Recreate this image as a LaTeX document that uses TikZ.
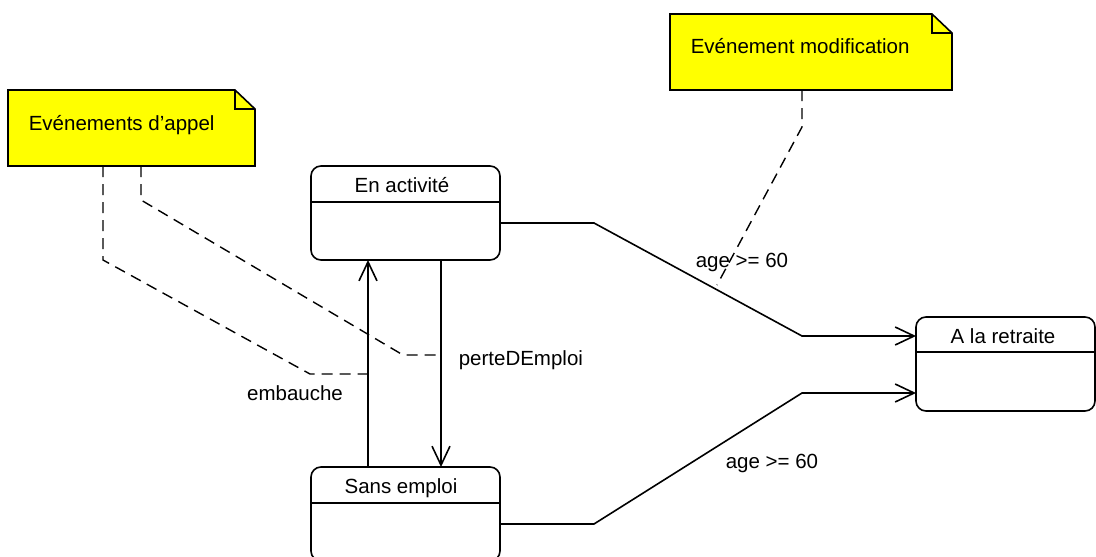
\documentclass[tikz,border=0pt]{standalone}
\usepackage{fontspec}
\setmainfont{Liberation Sans}
\usetikzlibrary{arrows.meta}
\definecolor{noteyellow}{RGB}{255,255,0}
\begin{document}
\begin{tikzpicture}[x=1pt,y=-1pt,
  line width=1.6pt,
  font=\fontsize{20.5}{24}\selectfont,
  state/.style={draw, rounded corners=10pt, inner sep=0pt, outer sep=0pt, minimum height=94pt},
  trans/.style={-{Straight Barb[length=19pt,width=18pt]}},
  link/.style={dash pattern=on 11pt off 7pt, line width=1.4pt},
  lbl/.style={inner sep=0pt},
  notebox/.style={inner sep=0pt, outer sep=0pt, minimum height=76pt}
]
\useasboundingbox (0,0) rectangle (1096,557);
\begin{scope}
\clip (0,0) rectangle (1096,557);

% states
\node[state, minimum width=189pt] (act) at (405.5,213) {};
\node[state, minimum width=189pt] (sans) at (405.5,514) {};
\node[state, minimum width=179pt] (ret) at (1005.5,364) {};
\draw ([yshift=-36pt]act.north west) -- ([yshift=-36pt]act.north east);
\draw ([yshift=-36pt]sans.north west) -- ([yshift=-36pt]sans.north east);
\draw ([yshift=-35pt]ret.north west) -- ([yshift=-35pt]ret.north east);
\node[lbl, anchor=base] (tact) at (402,192) {En activité};
\node[lbl, anchor=base] (tsans) at (401,493) {Sans emploi};
\node[lbl, anchor=base] (tret) at (1003,343) {A la retraite};

% notes
\node[notebox, minimum width=247pt] (n1) at (131.5,128) {};
\node[notebox, minimum width=282pt] (n2) at (811,52) {};
\foreach \n in {n1,n2}{
  \draw[fill=noteyellow] (\n.north west) -- ([xshift=-20pt]\n.north east) -- ([yshift=-19pt]\n.north east) -- (\n.south east) -- (\n.south west) -- cycle;
  \draw ([xshift=-20pt]\n.north east) |- ([yshift=-19pt]\n.north east);
}
\node[lbl, anchor=base west] (tn1) at (28,130) {Evénements d’appel};
\node[lbl, anchor=base west] (tn2) at (690,53) {Evénement modification};

% transitions
\draw[trans] ([xshift=-37.5pt]sans.north) -- ([xshift=-37.5pt]act.south);
\draw[trans] ([xshift=35.5pt]act.south) -- ([xshift=35.5pt]sans.north);
\draw[trans] ([yshift=-10pt]act.east) -- (594,223) -- (802,336) -- ([yshift=28pt]ret.west);
\draw[trans] ([yshift=-10pt]sans.east) -- (594,524) -- (802,393) -- ([yshift=-29pt]ret.west);

\node[lbl, anchor=base] (lemb) at (295,400) {embauche};
\node[lbl, anchor=base west] (lperte) at (458,365) {perteDEmploi};
\node[lbl, anchor=base west] (lage1) at (695,267) {age >= 60};
\node[lbl, anchor=base west] (lage2) at (725,468) {age >= 60};

% note links
\coordinate (e1) at (368,374);
\coordinate (e2) at (441,355);
\coordinate (e3) at (717,285);
\draw[link] ([xshift=-28.5pt]n1.south) -- (103,260) -- (310,374) -- (e1);
\draw[link] ([xshift=9.5pt]n1.south) -- (141,200) -- (403,355) -- (e2);
\draw[link] ([xshift=-9pt]n2.south) -- (802,127) -- (e3);
\end{scope}
\end{tikzpicture}
\end{document}
